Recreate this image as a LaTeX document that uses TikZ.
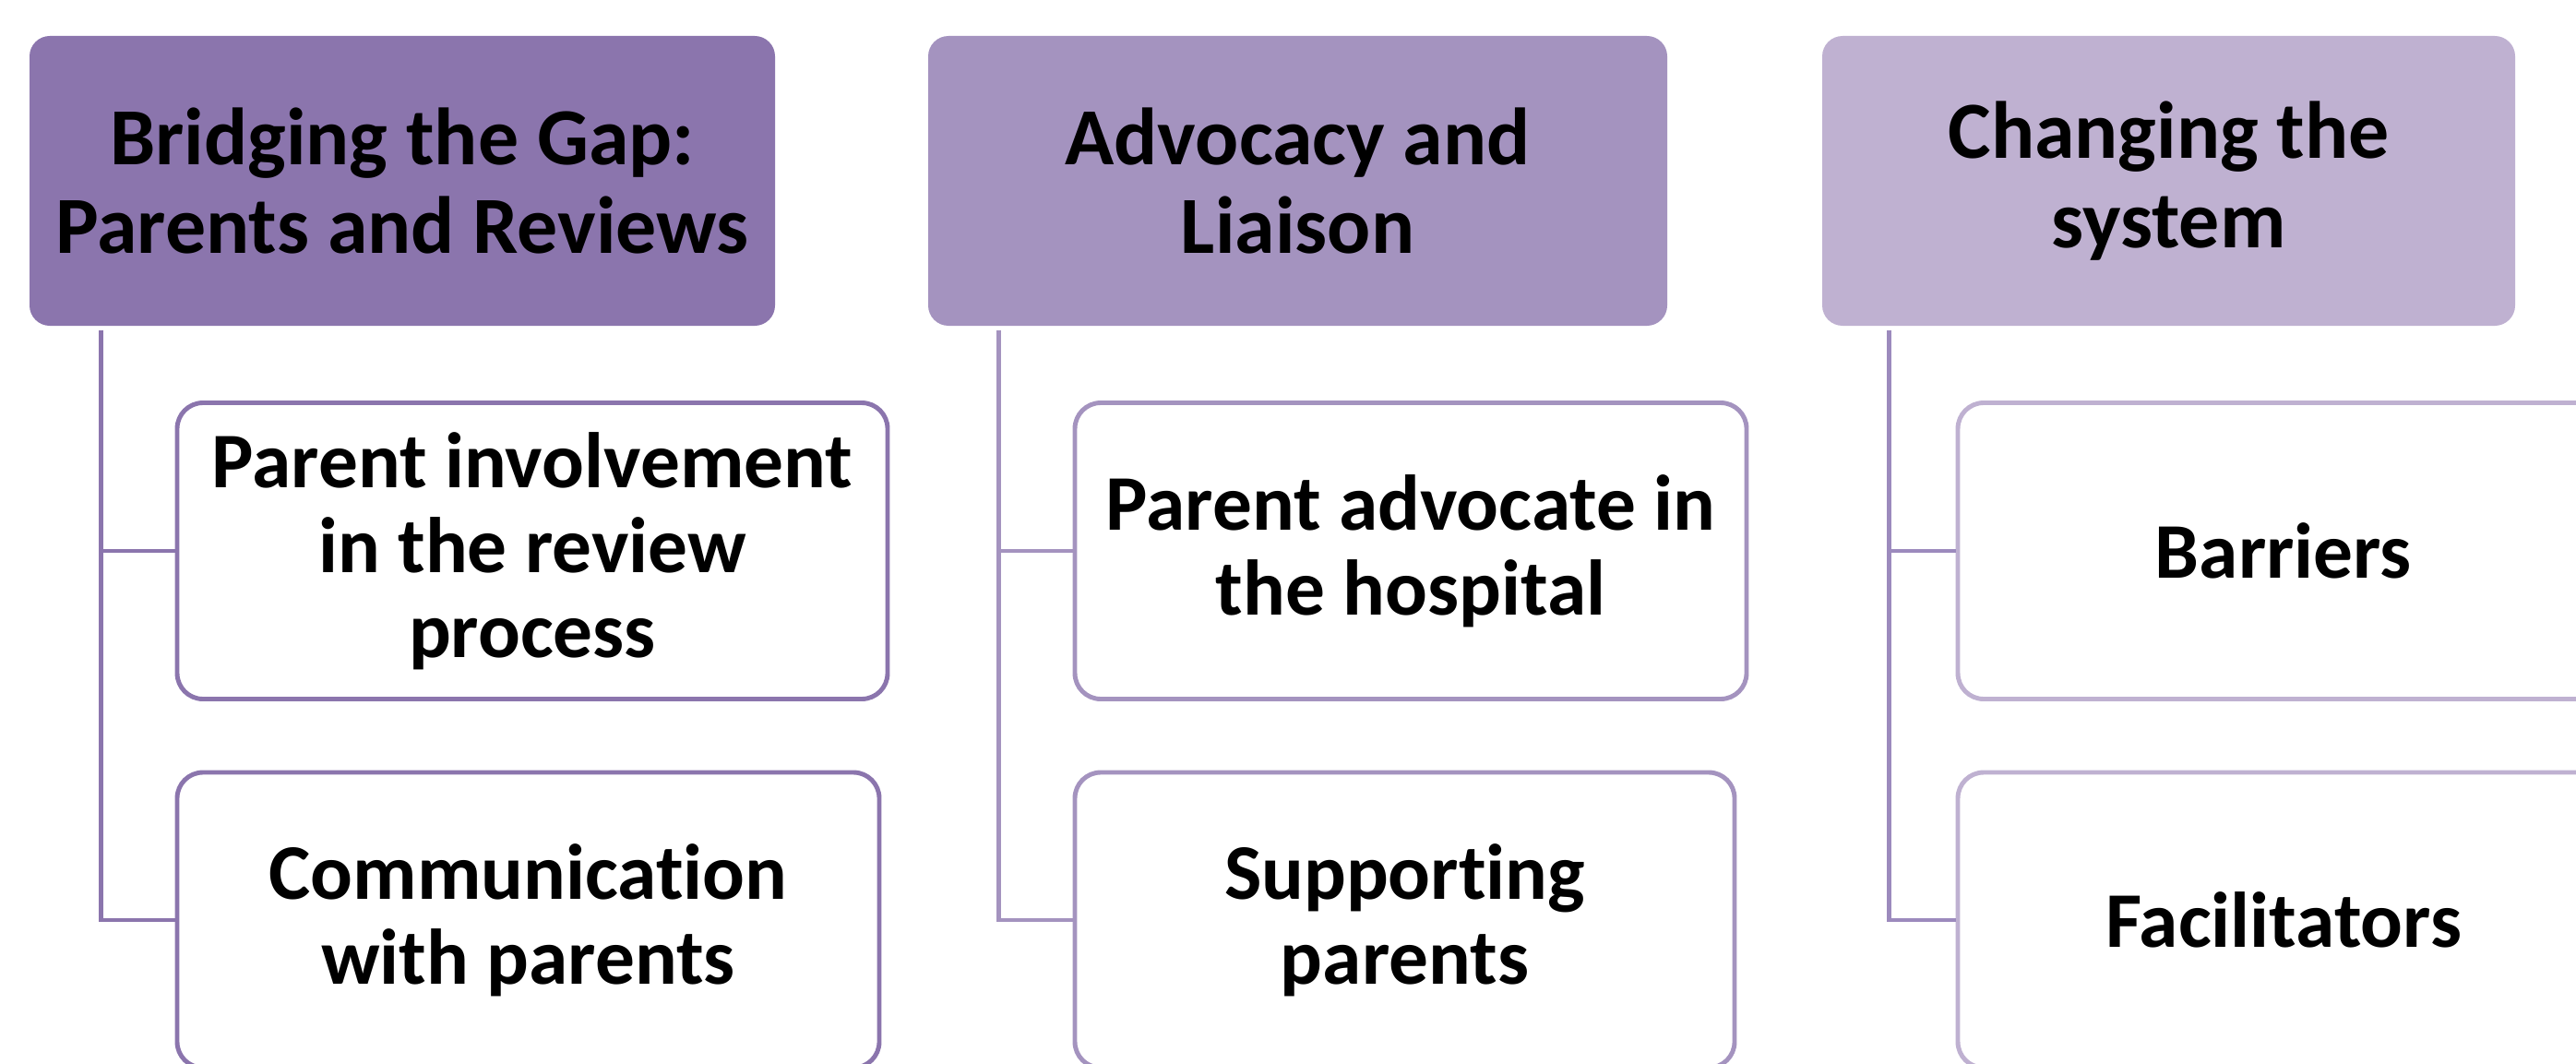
\documentclass[tikz,border=0pt]{standalone}
\usepackage{fontspec}
\setmainfont[Ligatures=NoCommon]{Carlito}
\usetikzlibrary{positioning}
\definecolor{plumA}{HTML}{8B75AD}
\definecolor{plumB}{HTML}{A493BF}
\definecolor{plumC}{HTML}{BFB1D1}
\definecolor{plumLine}{HTML}{9C8ABD}
\tikzstyle{head}=[rectangle,rounded corners=0.22cm,inner sep=0,align=center,
                  font=\fontsize{25}{27.5}\selectfont\bfseries]
\tikzstyle{leaf}=[rectangle,rounded corners=0.28cm,draw,line width=1.4pt,fill=white,
                  inner sep=0,align=center,font=\fontsize{24.3}{26.2}\selectfont\bfseries]
\tikzstyle{link}=[line width=1.4pt]

\begin{document}
\begin{tikzpicture}
\useasboundingbox (0,0) rectangle (27.92,-11.52);
\clip (0,0) rectangle (27.92,-11.52);
% top row
\node[head,fill=plumA,minimum width=8.08cm,minimum height=3.14cm] (gap) at (4.36,-1.96)
  {Bridging the Gap:\\Parents and Reviews};
\node[head,fill=plumB,minimum width=8.01cm,minimum height=3.14cm] (advo) at (14.065,-1.96)
  {Advocacy and\\Liaison};
\node[head,fill=plumC,minimum width=7.51cm,minimum height=3.14cm] (sys) at (23.505,-1.96)
  {Changing the\\system};
% second level
\node[leaf,draw=plumA,minimum width=7.70cm,minimum height=3.21cm] (invol) at (5.77,-5.97)
  {Parent involvement\\in the review\\process};
\node[leaf,draw=plumA,minimum width=7.61cm,minimum height=3.20cm] (comm) at (5.725,-9.97)
  {Communication\\with parents};
\node[leaf,draw=plumB,minimum width=7.28cm,minimum height=3.21cm] (hosp) at (15.29,-5.97)
  {Parent advocate in\\the hospital};
\node[leaf,draw=plumB,minimum width=7.15cm,minimum height=3.20cm] (supp) at (15.225,-9.97)
  {Supporting\\parents};
\node[leaf,draw=plumC,minimum width=7.06cm,minimum height=3.21cm] (barr) at (24.75,-5.97)
  {Barriers};
\node[leaf,draw=plumC,minimum width=7.06cm,minimum height=3.20cm] (facil) at (24.75,-9.97)
  {Facilitators};
% connectors
\coordinate (gapfoot) at ([xshift=0.78cm,yshift=-0.04cm]gap.south west);
\coordinate (advofoot) at ([xshift=0.77cm,yshift=-0.04cm]advo.south west);
\coordinate (sysfoot) at ([xshift=0.73cm,yshift=-0.04cm]sys.south west);
\draw[link,draw=plumA] (gapfoot) |- (invol.west);
\draw[link,draw=plumA] (gapfoot) |- (comm.west);
\draw[link,draw=plumB] (advofoot) |- (hosp.west);
\draw[link,draw=plumB] (advofoot) |- (supp.west);
\draw[link,draw=plumLine] (sysfoot) |- (barr.west);
\draw[link,draw=plumLine] (sysfoot) |- (facil.west);
\end{tikzpicture}
\end{document}
